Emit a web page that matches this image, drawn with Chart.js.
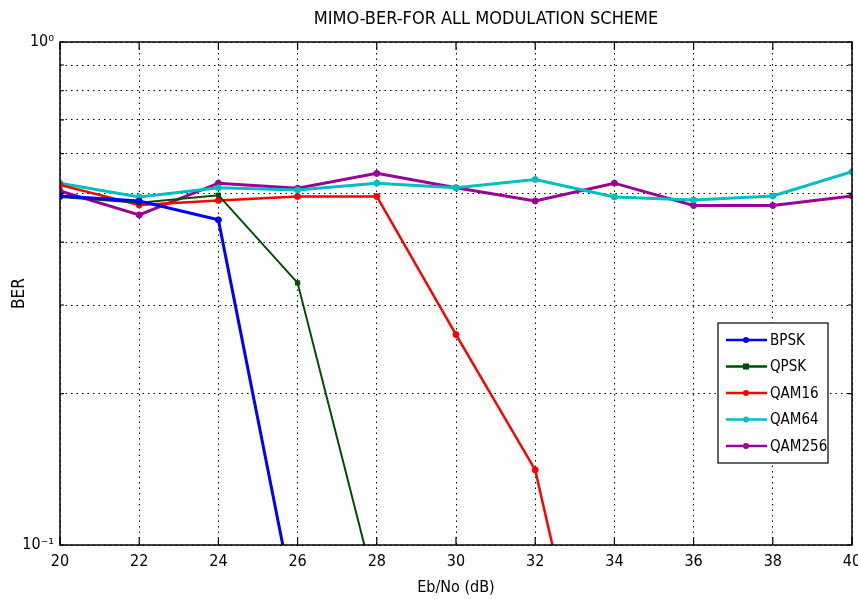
<!DOCTYPE html>
<html>
<head>
<meta charset="utf-8">
<script src="https://cdn.jsdelivr.net/npm/chart.js@4.4.1/dist/chart.umd.min.js"></script>
<style>
  html, body { margin: 0; padding: 0; background: #fff; }
  #wrap { width: 858px; height: 599px; }
</style>
</head>
<body>
<div id="wrap"><canvas id="ber" width="858" height="599"></canvas></div>
<script>
// values (BER vs Eb/No)
const ebno   = [20, 22, 24, 26, 28, 30, 32, 34, 36, 38, 40];
const bpsk   = [0.494, 0.483, 0.443, 0.071, null, null, null, null, null, null, null];
const qpsk   = [0.492, 0.479, 0.496, 0.332, 0.080, null, null, null, null, null, null];
const qam16  = [0.520, 0.474, 0.484, 0.493, 0.493, 0.262, 0.141, 0.029, null, null, null];
const qam64  = [0.524, 0.492, 0.513, 0.508, 0.524, 0.513, 0.533, 0.492, 0.485, 0.494, 0.552];
const qam256 = [0.506, 0.453, 0.524, 0.512, 0.548, 0.513, 0.483, 0.524, 0.473, 0.473, 0.494];
const yTicks = [0.1, 0.2, 0.3, 0.4, 0.5, 0.6, 0.7, 0.8, 0.9, 1];

const FONT = "'Liberation Sans Narrow', 'DejaVu Sans Condensed', 'Arial Narrow', sans-serif";

function pts(vals) {
  return ebno.map((x, i) => ({ x: x, y: vals[i] }));
}

function series(label, vals, color, width, style) {
  return {
    label: label,
    data: pts(vals),
    borderColor: color,
    backgroundColor: color,
    borderWidth: width,
    pointStyle: style || 'circle',
    pointRadius: 3,
    pointBorderWidth: 1,
    tension: 0,
    spanGaps: false
  };
}

// box, inward ticks, title and legend drawn MATLAB style
const matlabLook = {
  id: 'matlabLook',
  beforeDraw(chart) {
    const c = chart.ctx;
    c.save();
    c.fillStyle = '#fff';
    c.fillRect(0, 0, chart.width, chart.height);
    c.restore();
  },
  afterDraw(chart) {
    const c = chart.ctx;
    const a = chart.chartArea;
    const xs = chart.scales.x, ys = chart.scales.y;
    c.save();
    c.strokeStyle = '#000';
    c.lineWidth = 1.5;
    c.strokeRect(a.left, a.top, a.right - a.left, a.bottom - a.top);

    c.lineWidth = 1.2;
    c.beginPath();
    xs.ticks.forEach(t => {
      const px = xs.getPixelForValue(t.value);
      c.moveTo(px, a.bottom); c.lineTo(px, a.bottom - 8);
      c.moveTo(px, a.top); c.lineTo(px, a.top + 8);
    });
    ys.ticks.forEach(t => {
      const py = ys.getPixelForValue(t.value);
      c.moveTo(a.left, py); c.lineTo(a.left + 4, py);
      c.moveTo(a.right, py); c.lineTo(a.right - 4, py);
    });
    c.stroke();

    // title
    c.fillStyle = '#000';
    c.font = '18px ' + FONT;
    c.textAlign = 'center';
    c.textBaseline = 'middle';
    c.fillText('MIMO-BER-FOR ALL MODULATION SCHEME', 486, 19);

    // legend box
    const bx = 718, by = 323, bw = 110, bh = 140;
    c.fillStyle = '#fff';
    c.fillRect(bx, by, bw, bh);
    c.lineWidth = 1.2;
    c.strokeStyle = '#000';
    c.strokeRect(bx, by, bw, bh);
    c.font = '15px ' + FONT;
    c.textAlign = 'left';
    chart.data.datasets.forEach((ds, i) => {
      const y = 340 + i * 26.5;
      c.strokeStyle = ds.borderColor;
      c.lineWidth = 2.5;
      c.beginPath();
      c.moveTo(726, y); c.lineTo(767, y);
      c.stroke();
      c.fillStyle = ds.borderColor;
      if (ds.pointStyle === 'rect') {
        c.fillRect(743, y - 3, 6, 6);
      } else {
        c.beginPath(); c.arc(746, y, 3, 0, Math.PI * 2); c.fill();
      }
      c.fillStyle = '#000';
      c.fillText(ds.label, 770, y + 1);
    });
    c.restore();
  }
};

new Chart(document.getElementById('ber'), {
  type: 'line',
  data: {
    datasets: [
      series('BPSK', bpsk, '#0000ff', 3),
      series('QPSK', qpsk, '#004d00', 2, 'rect'),
      series('QAM16', qam16, '#ff0000', 2.5),
      series('QAM64', qam64, '#00bfbf', 3),
      series('QAM256', qam256, '#990099', 3)
    ]
  },
  options: {
    responsive: false,
    animation: false,
    layout: { padding: { top: 42, right: 6, left: 0, bottom: 0 } },
    plugins: {
      legend: { display: false },
      title: { display: false },
      tooltip: { enabled: false }
    },
    scales: {
      x: {
        type: 'linear',
        min: 20,
        max: 40,
        afterFit(s) {
          s.height = 54;
          s.paddingLeft = 0;
          s.paddingRight = 0;
        },
        ticks: {
          stepSize: 2,
          padding: 7,
          color: '#000',
          font: { family: FONT, size: 16 }
        },
        grid: { color: '#000', lineWidth: 1, drawTicks: false },
        border: { display: false, dash: [1.5, 4] },
        title: {
          display: true,
          text: 'Eb/No (dB)',
          color: '#000',
          font: { family: FONT, size: 16 },
          padding: { top: 0, bottom: 2 }
        }
      },
      y: {
        type: 'logarithmic',
        min: 0.1,
        max: 1,
        afterFit(s) {
          s.width = 60;
          s.paddingTop = 0;
          s.paddingBottom = 0;
        },
        afterBuildTicks(s) { s.ticks = yTicks.map(v => ({ value: v })); },
        ticks: {
          padding: 6,
          color: '#000',
          font: { family: FONT, size: 16 },
          callback(v) {
            if (v === 1) return '10\u2070';
            if (v === 0.1) return '10\u207B\u00B9';
            return '';
          }
        },
        grid: { color: '#000', lineWidth: 1, drawTicks: false },
        border: { display: false, dash: [1.5, 4] },
        title: {
          display: true,
          text: 'BER',
          color: '#000',
          font: { family: FONT, size: 17 },
          padding: { top: 9, bottom: 0 }
        }
      }
    }
  },
  plugins: [matlabLook]
});
</script>
</body>
</html>
